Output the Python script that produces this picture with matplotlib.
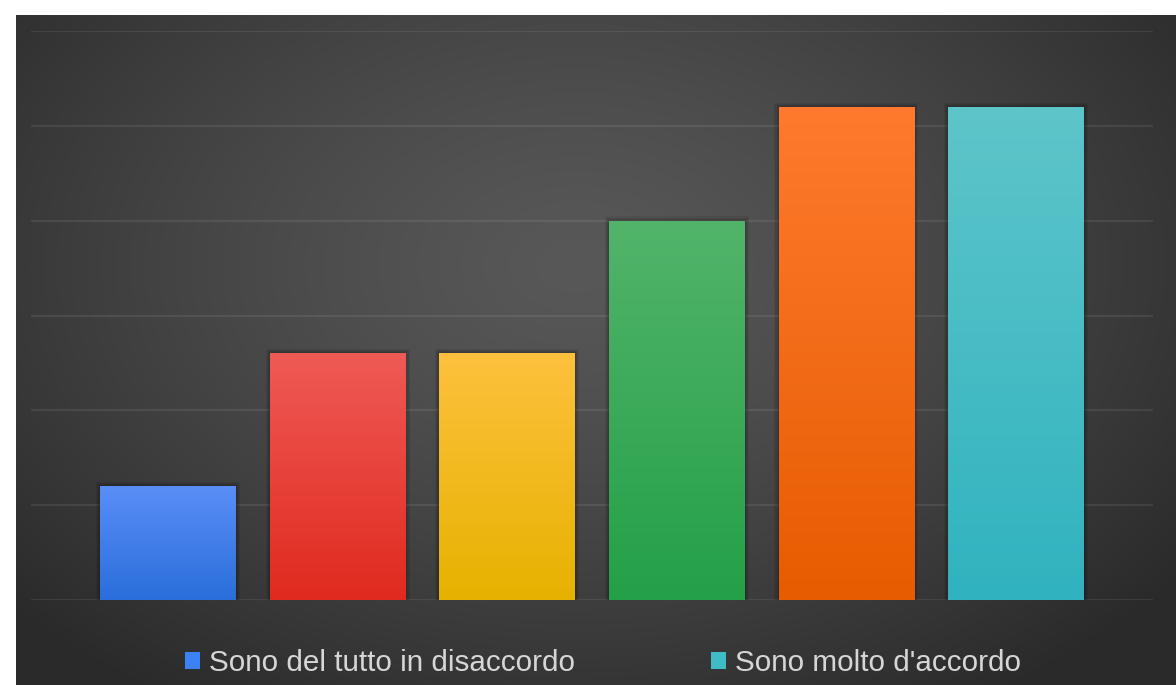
import numpy as np
import matplotlib.pyplot as plt
from matplotlib.patches import Rectangle
from matplotlib.colors import to_rgb

# --- dati ---
valori = [6, 13, 13, 20, 26, 26]
colori_alto = ["#5a8ef7", "#ef5a55", "#fdc13d", "#52b46a", "#ff7a2e", "#5ec5ca"]
colori_basso = ["#2a6edb", "#e02a1f", "#e6b200", "#24a048", "#e65c00", "#30b3bf"]
legenda_etichette = ["Sono del tutto in disaccordo", "Sono molto d'accordo"]
legenda_colori = ["#3b82f6", "#40bcc6"]

W, H = 1176, 685
fig = plt.figure(figsize=(W / 100, H / 100), dpi=100)
fig.patch.set_facecolor("white")

# sfondo scuro con sfumatura radiale
bg = fig.add_axes([16 / W, 0, 1 - 16 / W, 1 - 15 / H])
bg.set_axis_off()
yy, xx = np.mgrid[0:670, 0:1160]
d = np.sqrt(((xx - 560) / 760.0) ** 2 + ((yy - 250) / 520.0) ** 2)
d = np.clip(d, 0, 1)
lum = (88 - 46 * d ** 1.3) / 255.0
bg.imshow(np.dstack([lum, lum, lum]), aspect="auto", extent=(0, 1, 0, 1),
          origin="upper", interpolation="bilinear")
bg.set_xlim(0, 1)
bg.set_ylim(0, 1)

# area del grafico
ax = fig.add_axes([31 / W, (H - 600) / H, 1122 / W, (600 - 31) / H])
ax.patch.set_alpha(0)
for s in ax.spines.values():
    s.set_visible(False)
ax.set_ylim(0, 30)
ax.set_xlim(-0.808, 5.808)
ax.set_yticks(range(0, 31, 5))
ax.set_xticks([])
ax.tick_params(left=False, labelleft=False)
ax.yaxis.grid(True, color="white", alpha=0.08, linewidth=1.6)
ax.set_axisbelow(True)

x = np.arange(len(valori))
barre = ax.bar(x, valori, width=0.8, color="none", zorder=3)

# riempimento sfumato e ombra morbida di ogni barra
for b, c1, c2 in zip(barre, colori_alto, colori_basso):
    x0, w, h = b.get_x(), b.get_width(), b.get_height()
    for k in range(1, 5):
        dx, dy = 0.006 * k, 0.055 * k
        ax.add_patch(Rectangle((x0 - dx, -dy), w + 2 * dx, h + 2 * dy,
                               facecolor="black", alpha=0.07, edgecolor="none",
                               zorder=2))
    t = np.linspace(0, 1, 256)[:, None]
    a, z = np.array(to_rgb(c1)), np.array(to_rgb(c2))
    grad = a[None, None, :] * (1 - t[..., None]) + z[None, None, :] * t[..., None]
    img = ax.imshow(grad, extent=(x0, x0 + w, 0, h), origin="upper",
                    aspect="auto", zorder=3, interpolation="bilinear")
    img.set_clip_path(b)
ax.set_xlim(-0.808, 5.808)
ax.set_ylim(0, 30)

# legenda
maniglie = [Rectangle((0, 0), 1, 1, facecolor=c, edgecolor="none") for c in legenda_colori]
leg = fig.legend(maniglie, legenda_etichette, loc="center",
                 bbox_to_anchor=(603 / W, 1 - 663 / H), ncol=2, frameon=False,
                 handlelength=0.5, handleheight=0.5, handletextpad=0.3,
                 columnspacing=4.6, borderpad=0,
                 prop={"family": "Liberation Sans", "size": 21.3})
for t in leg.get_texts():
    t.set_color("#d6d6d6")

fig.savefig("out.png", dpi=100)
